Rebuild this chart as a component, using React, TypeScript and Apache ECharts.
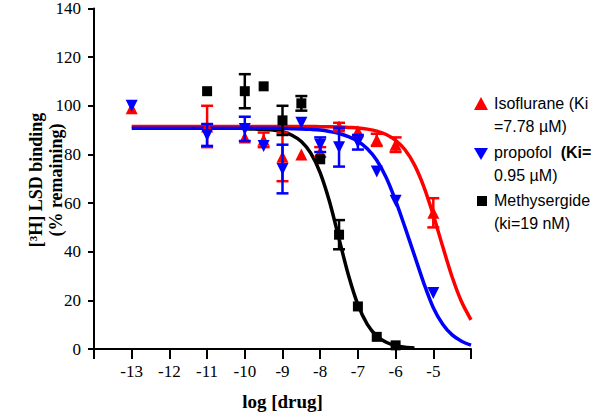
import React, { useEffect, useRef } from "react";
import * as echarts from "echarts";

// ---- data ----
const xTickMin = -14;
const xTickMax = -4;
const yTickMax = 140;

// fitted curves
const isoCurveX = [-13, -12, -11, -10, -9.5, -9, -8.75, -8.5, -8.25, -8, -7.75, -7.5, -7.25, -7, -6.75, -6.5, -6.25, -6, -5.75, -5.5, -5.25, -5, -4.75, -4.5, -4.25, -4];
const isoCurveY = [91.5, 91.5, 91.5, 91.5, 91.5, 91.5, 91.5, 91.5, 91.5, 91.4, 91.4, 91.3, 91.1, 90.9, 90.4, 89.6, 88.2, 85.8, 81.9, 75.7, 66.7, 55.1, 42.1, 29.6, 19.4, 12.0];

const propCurveX = [-13, -12, -11, -10, -9.5, -9, -8.75, -8.5, -8.25, -8, -7.75, -7.5, -7.25, -7, -6.75, -6.5, -6.25, -6, -5.75, -5.5, -5.25, -5, -4.75, -4.5, -4.25, -4];
const propCurveY = [90.8, 90.8, 90.8, 90.8, 90.8, 90.7, 90.6, 90.5, 90.3, 90, 89.4, 88.6, 87.3, 85.4, 82.3, 77.6, 70.5, 61, 50, 38.5, 27, 17, 10.2, 5.8, 3.2, 1.6];

const methCurveX = [-10, -9.75, -9.5, -9.25, -9, -8.75, -8.5, -8.25, -8, -7.75, -7.5, -7.25, -7, -6.75, -6.5, -6.25, -6, -5.75, -5.5];
const methCurveY = [90.6, 90.5, 90.3, 90, 89.3, 87.9, 85.3, 80.5, 72.4, 60.4, 45.3, 30.3, 18.2, 10.1, 5.3, 2.8, 1.4, 0.7, 0.4];

// measured points (mean, SEM)
const isoX = [-13, -11, -10, -9.5, -9, -8.5, -8, -7.5, -7, -6.5, -6, -5];
const isoY = [99, 91.5, 87, 86, 79, 80, 81, 91.5, 89.5, 86, 84, 56];
const isoErr = [0, 8.5, 0, 3, 10, 0, 2, 1.5, 0, 2.5, 3, 6];

const propX = [-13, -11, -10, -9.5, -9, -8.5, -8, -7.5, -7, -6.5, -6, -5];
const propY = [100, 88, 90.5, 83.5, 74, 93, 84, 83, 85, 73, 61, 23];
const propErr = [0, 4.5, 5, 0, 10, 0, 3, 8, 3, 0, 0, 0];

const methX = [-11, -10, -9.5, -9, -8.5, -8, -7.5, -7, -6.5, -6];
const methY = [106, 106, 108, 94, 101, 78, 47, 17.5, 5, 1.5];
const methErr = [0, 7, 0, 6, 3, 0, 6, 0, 0, 0];

const RED = "#ff0000";
const BLUE = "#0000ff";
const BLACK = "#000000";

function pairs(xs: number[], ys: number[]) {
  return xs.map((x, i) => [x, ys[i]]);
}

function errSeries(xs: number[], ys: number[], es: number[], color: string, z: number) {
  return {
    type: "custom",
    z,
    silent: true,
    data: xs.map((x, i) => [x, ys[i], es[i]]),
    encode: { x: 0, y: 1 },
    renderItem: (_params: any, api: any) => {
      const x = api.value(0);
      const y = api.value(1);
      const e = api.value(2);
      if (!e) return { type: "group", children: [] };
      const top = api.coord([x, y + e]);
      const bot = api.coord([x, y - e]);
      const hw = 6;
      const st = { stroke: color, lineWidth: 2.5 };
      return {
        type: "group",
        children: [
          { type: "line", shape: { x1: top[0], y1: top[1], x2: bot[0], y2: bot[1] }, style: st },
          { type: "line", shape: { x1: top[0] - hw, y1: top[1], x2: top[0] + hw, y2: top[1] }, style: st },
          { type: "line", shape: { x1: bot[0] - hw, y1: bot[1], x2: bot[0] + hw, y2: bot[1] }, style: st },
        ],
      };
    },
  };
}

function curve(xs: number[], ys: number[], color: string, z: number) {
  return {
    type: "line",
    z,
    data: pairs(xs, ys),
    smooth: 0.3,
    showSymbol: false,
    symbol: "none",
    lineStyle: { color, width: 3.5 },
    silent: true,
  };
}

function points(xs: number[], ys: number[], color: string, symbol: string, size: number, rotate: number, z: number) {
  return {
    type: "scatter",
    z,
    data: pairs(xs, ys),
    symbol,
    symbolSize: size,
    symbolRotate: rotate,
    itemStyle: { color, opacity: 1 },
    silent: true,
  };
}

export default function App() {
  const ref = useRef<HTMLDivElement>(null);
  useEffect(() => {
    if (!ref.current) return;
    const chart = echarts.init(ref.current, null, { renderer: "svg" });
    const serif = "'Liberation Serif', 'Times New Roman', serif";
    const sans = "'Liberation Sans', Arial, sans-serif";
    chart.setOption({
      animation: false,
      backgroundColor: "#ffffff",
      grid: { left: 94, right: 129, top: 7, bottom: 62, containLabel: false },
      xAxis: {
        type: "value",
        min: xTickMin,
        max: xTickMax,
        interval: 1,
        axisLine: { onZero: false, lineStyle: { color: BLACK, width: 2 } },
        axisTick: { show: true, length: 10, inside: false, lineStyle: { color: BLACK, width: 2 } },
        axisLabel: {
          color: BLACK,
          fontFamily: serif,
          fontSize: 17,
          margin: 14,
          formatter: (v: number) => (v === xTickMin || v === xTickMax ? "" : String(v)),
          showMinLabel: true,
          showMaxLabel: true,
        },
        splitLine: { show: false },
        name: "log [drug]",
        nameLocation: "middle",
        nameGap: 43,
        nameTextStyle: { color: BLACK, fontFamily: serif, fontSize: 19, fontWeight: "bold" },
      },
      yAxis: {
        type: "value",
        min: 0,
        max: yTickMax,
        interval: 20,
        axisLine: { show: true, lineStyle: { color: BLACK, width: 2 } },
        axisTick: { show: true, length: 6, inside: false, lineStyle: { color: BLACK, width: 2 } },
        axisLabel: { color: BLACK, fontFamily: serif, fontSize: 17, margin: 13 },
        splitLine: { show: false },
      },
      graphic: [
        {
          type: "text",
          x: 46,
          y: 180,
          rotation: Math.PI / 2,
          style: {
            text: "[³H] LSD binding\n(% remaining)",
            font: `bold 18px ${serif}`,
            fill: BLACK,
            align: "center",
            verticalAlign: "middle",
            textAlign: "center",
            textVerticalAlign: "middle",
            lineHeight: 20,
          },
        },
        {
          type: "polygon",
          shape: { points: [[481, 97], [488, 110], [474, 110]] },
          style: { fill: RED },
        },
        {
          type: "text",
          x: 494,
          y: 92,
          style: {
            text: "Isoflurane (Ki\n=7.78 µM)",
            font: `16px ${sans}`,
            fill: BLACK,
            lineHeight: 23,
            align: "left",
            verticalAlign: "top",
            textAlign: "left",
            textVerticalAlign: "top",
          },
        },
        {
          type: "polygon",
          shape: { points: [[474, 148], [488, 148], [481, 160]] },
          style: { fill: BLUE },
        },
        {
          type: "text",
          x: 494,
          y: 141,
          style: {
            text: "{n|propofol  }{b|(Ki=}\n{n|0.95 µM)}",
            fill: BLACK,
            align: "left",
            verticalAlign: "top",
            textAlign: "left",
            textVerticalAlign: "top",
            rich: {
              n: { font: `16px ${sans}`, fill: BLACK, lineHeight: 23 },
              b: { font: `bold 16px ${sans}`, fill: BLACK, lineHeight: 23 },
            },
          },
        },
        {
          type: "rect",
          shape: { x: 477, y: 196, width: 10, height: 10 },
          style: { fill: BLACK },
        },
        {
          type: "text",
          x: 494,
          y: 189,
          style: {
            text: "Methysergide\n(ki=19 nM)",
            font: `16px ${sans}`,
            fill: BLACK,
            lineHeight: 23,
            align: "left",
            verticalAlign: "top",
            textAlign: "left",
            textVerticalAlign: "top",
          },
        },
      ],
      series: [
        curve(methCurveX, methCurveY, BLACK, 2),
        curve(isoCurveX, isoCurveY, RED, 3),
        curve(propCurveX, propCurveY, BLUE, 4),
        errSeries(isoX, isoY, isoErr, RED, 5),
        points(isoX, isoY, RED, "triangle", 12, 0, 6),
        errSeries(propX, propY, propErr, BLUE, 7),
        points(propX, propY, BLUE, "triangle", 12, 180, 8),
        errSeries(methX, methY, methErr, BLACK, 9),
        points(methX, methY, BLACK, "rect", 10, 0, 10),
      ],
    });
    return () => chart.dispose();
  }, []);
  return (
    <div
      ref={ref}
      style={{ position: "fixed", left: 0, top: 0, width: 600, height: 416, background: "#fff" }}
    />
  );
}
